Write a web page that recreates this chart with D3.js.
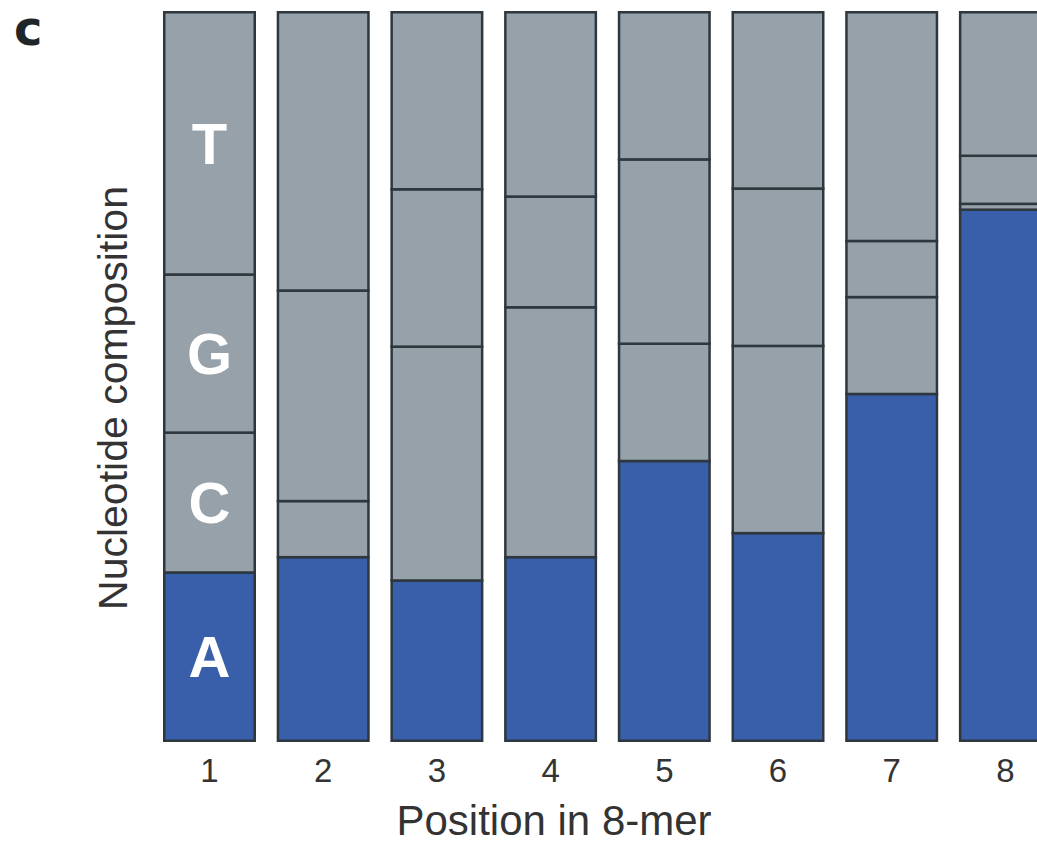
<!DOCTYPE html>
<html>
<head>
<meta charset="utf-8">
<script src="https://cdn.jsdelivr.net/npm/d3@7"></script>
<style>
  html, body { margin: 0; padding: 0; background: #ffffff; }
  svg { display: block; }
</style>
</head>
<body>
<svg id="chart" width="1037" height="844"></svg>
<script>
// Nucleotide fractions at each position of the 8-mer (bottom to top: A, C, G, T)
const positions = ["1", "2", "3", "4", "5", "6", "7", "8"];
const nucleotides = ["A", "C", "G", "T"];
const fracA = [0.231, 0.252, 0.220, 0.252, 0.384, 0.285, 0.476, 0.729];
const fracC = [0.192, 0.077, 0.321, 0.343, 0.161, 0.257, 0.133, 0.008];
const fracG = [0.217, 0.289, 0.216, 0.152, 0.253, 0.216, 0.077, 0.066];
const fracT = [0.360, 0.382, 0.243, 0.253, 0.202, 0.242, 0.314, 0.197];

const rows = positions.map((p, i) => ({
  position: p, A: fracA[i], C: fracC[i], G: fracG[i], T: fracT[i]
}));

const svg = d3.select("#chart");
const strokeW = 2.5;
const font = "Liberation Sans, Arial, Helvetica, sans-serif";

const x = d3.scaleBand()
  .domain(positions)
  .range([152.65, 152.65 + 8 * 113.7])
  .paddingInner(0.182)
  .paddingOuter(0.091);

const y = d3.scaleLinear()
  .domain([0, 1])
  .range([742 - strokeW / 2, 11 + strokeW / 2]);

const fill = { A: "#3a5faa", C: "#97a1aa", G: "#97a1aa", T: "#97a1aa" };

const stacked = d3.stack().keys(nucleotides)(rows);

const layers = svg.append("g")
  .selectAll("g")
  .data(stacked)
  .join("g")
  .attr("fill", d => fill[d.key]);

layers.selectAll("rect")
  .data(d => d)
  .join("rect")
  .attr("x", d => x(d.data.position) + strokeW / 2)
  .attr("width", x.bandwidth() - strokeW)
  .attr("y", d => y(d[1]))
  .attr("height", d => y(d[0]) - y(d[1]))
  .attr("stroke", "#2d373d")
  .attr("stroke-width", strokeW);

// Letter labels inside the first column
const first = positions[0];
svg.append("g")
  .selectAll("text")
  .data(stacked)
  .join("text")
  .attr("x", x(first) + x.bandwidth() / 2)
  .attr("y", d => y((d[0][0] + d[0][1]) / 2))
  .attr("text-anchor", "middle")
  .attr("dominant-baseline", "central")
  .attr("fill", "#ffffff")
  .attr("font-family", font)
  .attr("font-weight", "bold")
  .attr("font-size", 58)
  .text(d => d.key);

// X axis tick labels
const xAxis = svg.append("g")
  .attr("transform", "translate(0,752)")
  .call(d3.axisBottom(x).tickSize(0).tickPadding(7));
xAxis.select(".domain").remove();
xAxis.selectAll("text")
  .style("font-family", font)
  .style("font-size", "33px")
  .attr("fill", "#333333");

// Axis titles
svg.append("text")
  .attr("x", 554)
  .attr("y", 835)
  .attr("text-anchor", "middle")
  .attr("font-family", font)
  .attr("font-size", 42)
  .attr("fill", "#333333")
  .text("Position in 8-mer");

svg.append("text")
  .attr("transform", "translate(127,398) rotate(-90)")
  .attr("text-anchor", "middle")
  .attr("font-family", font)
  .attr("font-size", 41)
  .attr("fill", "#333333")
  .text("Nucleotide composition");

// Panel letter
svg.append("text")
  .attr("x", 14)
  .attr("y", 45)
  .attr("font-family", "DejaVu Sans, Liberation Sans, sans-serif")
  .attr("font-weight", "900")
  .attr("font-size", 48)
  .attr("fill", "#1e252b")
  .text("c");
</script>
</body>
</html>
